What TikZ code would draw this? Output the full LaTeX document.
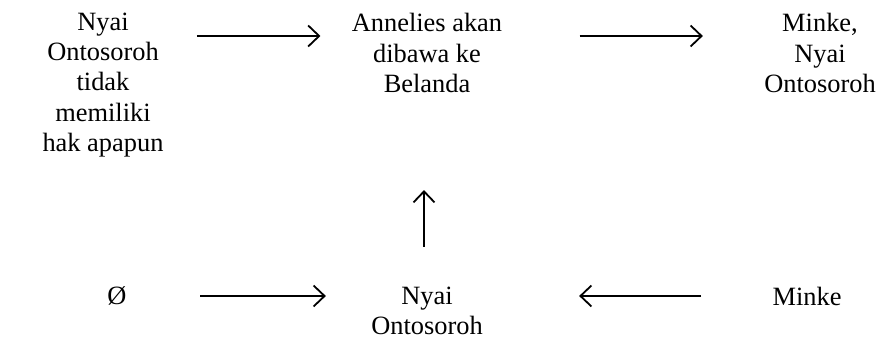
\documentclass[tikz,border=0pt]{standalone}
\usepackage{fontspec}
\setmainfont{Liberation Serif}
\usepackage{tikz}
\usetikzlibrary{arrows.meta}
\usetikzlibrary{positioning}
\tikzset{lbl/.style = {inner sep = 0, align = center,
                       font = \fontsize{13.2}{15.2}\selectfont}}
\tikzset{arr/.style = {-{Straight Barb[length=5.5pt, width=10.5pt]}, line width = 0.9pt}}

\begin{document}
\begin{tikzpicture}[x=0.5pt, y=-0.5pt]
          \useasboundingbox (0, 0) rectangle (877, 341);
          \node [lbl] (hak) at (103, 85) {Nyai\\Ontosoroh\\tidak\\memiliki\\hak apapun};
          \node [lbl] (belanda) at (427, 53) {Annelies akan\\dibawa ke\\Belanda};
          \node [lbl] (minkenyai) at (820, 53) {Minke,\\Nyai\\Ontosoroh};
          \node [lbl] (kosong) at (117, 296) {Ø};
          \node [lbl] (nyai) at (427, 311) {Nyai\\Ontosoroh};
          \node [lbl] (minke) at (807, 296) {Minke};

          \coordinate (atas) at (0, 36);
          \coordinate (bawah) at (0, 296);
          \draw [arr, shorten <=16.5pt, shorten >=15.5pt] (hak.east |- atas) -- (belanda.west |- atas);
          \draw [arr, shorten <=38.5pt, shorten >=30.5pt] (belanda.east |- atas) -- (minkenyai.west |- atas);
          \draw [arr, shorten <=36.75pt, shorten >=22.5pt] (kosong.east |- bawah) -- (nyai.west |- bawah);
          \draw [arr, shorten <=35.5pt, shorten >=48pt] (minke.west |- bawah) -- (nyai.east |- bawah);
          \draw [arr, shorten <=20pt, shorten >=48.5pt] ([xshift=-1.5pt]nyai.north) -- ([xshift=-1.5pt]belanda.south);
        \end{tikzpicture}
\end{document}
